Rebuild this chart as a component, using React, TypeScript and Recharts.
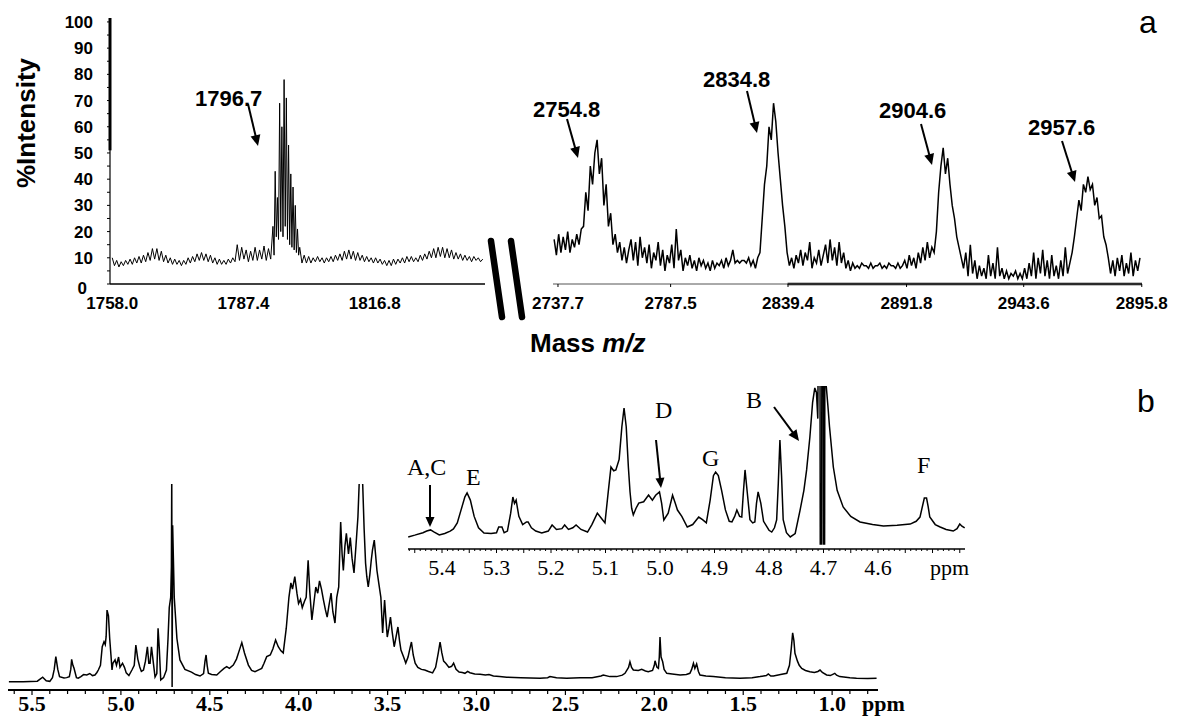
import React from "react";
import { Line, LineChart, ReferenceLine, XAxis, YAxis } from "recharts";

// (a) MALDI spectrum, low-mass window: [m/z, % intensity]
const msLow: [number, number][] = [
  [1758, 10], [1758.5, 7], [1759, 9], [1759.5, 6.5], [1760, 8.5], [1760.5, 7], [1761, 9], [1761.5, 7.5], [1762, 9.5], [1762.5, 7.5],
  [1763, 10], [1763.5, 8], [1764, 10.5], [1764.5, 8], [1765, 11], [1765.5, 8.5], [1766, 12], [1766.5, 9], [1767, 13.5], [1767.5, 9.5],
  [1768, 13.5], [1768.5, 9], [1769, 12.5], [1769.5, 8.5], [1770, 11], [1770.5, 8], [1771, 10], [1771.5, 7.5], [1772, 9.5], [1772.5, 7.5],
  [1773, 9], [1773.5, 7], [1774, 9], [1774.5, 7.5], [1775, 10], [1775.5, 8], [1776, 10.5], [1776.5, 8.5], [1777, 11.5], [1777.5, 9],
  [1778, 12], [1778.5, 9], [1779, 11.5], [1779.5, 8.5], [1780, 11], [1780.5, 8], [1781, 10], [1781.5, 7.5], [1782, 9.5], [1782.5, 7.5],
  [1783, 9], [1783.5, 7.5], [1784, 9.5], [1784.5, 8], [1785, 10], [1785.5, 8.5], [1786, 15], [1786.5, 9], [1787, 14], [1787.5, 9.5],
  [1788, 13], [1788.5, 8.5], [1789, 12.5], [1789.5, 9], [1790, 14], [1790.5, 9], [1791, 13], [1791.5, 9.5], [1792, 14.5], [1792.5, 9],
  [1793, 13.5], [1793.5, 9.5], [1794, 22], [1794.25, 11], [1794.5, 43], [1794.75, 18], [1795, 33], [1795.25, 17], [1795.5, 69], [1795.75, 20],
  [1796, 60], [1796.25, 18], [1796.5, 78], [1796.75, 22], [1797, 71], [1797.25, 17], [1797.5, 53], [1797.75, 15], [1798, 42], [1798.25, 14],
  [1798.5, 37], [1798.75, 13], [1799, 30], [1799.25, 12], [1799.5, 21], [1799.75, 11], [1800, 14], [1800.5, 8], [1801, 11], [1801.5, 8],
  [1802, 10.5], [1802.5, 8], [1803, 10], [1803.5, 8.5], [1804, 10.5], [1804.5, 8.5], [1805, 10], [1805.5, 8], [1806, 10], [1806.5, 8.5],
  [1807, 10.5], [1807.5, 8.5], [1808, 11], [1808.5, 9], [1809, 11.5], [1809.5, 9], [1810, 12.5], [1810.5, 9.5], [1811, 13], [1811.5, 9.5],
  [1812, 12.5], [1812.5, 9], [1813, 12], [1813.5, 9], [1814, 11], [1814.5, 8.5], [1815, 10.5], [1815.5, 8.5], [1816, 10], [1816.5, 8],
  [1817, 10], [1817.5, 8], [1818, 9.5], [1818.5, 7.5], [1819, 9], [1819.5, 7], [1820, 9], [1820.5, 7], [1821, 9.5], [1821.5, 7.5],
  [1822, 9.5], [1822.5, 8], [1823, 10], [1823.5, 8], [1824, 10.5], [1824.5, 8.5], [1825, 10.5], [1825.5, 8.5], [1826, 10], [1826.5, 8.5],
  [1827, 11], [1827.5, 9], [1828, 11.5], [1828.5, 9.5], [1829, 12.5], [1829.5, 10], [1830, 13.5], [1830.5, 10], [1831, 14], [1831.5, 10.5],
  [1832, 14], [1832.5, 10], [1833, 13.5], [1833.5, 10], [1834, 13], [1834.5, 9.5], [1835, 12], [1835.5, 9.5], [1836, 11.5], [1836.5, 9],
  [1837, 11], [1837.5, 9], [1838, 10.5], [1838.5, 8.5], [1839, 10.5], [1839.5, 9], [1840, 10], [1840.5, 8.5], [1841, 9.5],
];

// (a) high-mass window, one reading per m/z unit starting at msHighStart
const msHighStart = 2736;
const msHighPct = [
  17, 11, 19, 12, 18, 13, 20, 12, 17, 14,
  19, 15, 21, 22, 35, 28, 45, 38, 50, 55,
  42, 48, 30, 38, 22, 27, 15, 19, 12, 16,
  9, 14, 8, 13, 17, 9, 16, 7, 18, 10,
  14, 8, 15, 6, 12, 9, 16, 7, 13, 5,
  11, 8, 15, 6, 21, 9, 13, 5, 10, 7,
  11, 6, 9, 5, 10, 7, 9, 6, 8, 5,
  9, 6, 8, 7, 9, 6, 10, 7, 9, 13,
  8, 9, 8, 9, 9, 8, 10, 7, 9, 6,
  10, 12, 25, 38, 45, 60, 55, 69, 62, 50,
  40, 30, 22, 12, 7, 10, 6, 11, 8, 13,
  7, 12, 9, 16, 6, 10, 8, 13, 7, 11,
  15, 8, 17, 9, 14, 7, 16, 8, 12, 6,
  9, 5, 8, 6, 7, 6, 8, 7, 7, 6,
  8, 6, 7, 7, 8, 6, 7, 6, 8, 7,
  7, 6, 8, 6, 7, 9, 6, 11, 7, 10,
  6, 12, 8, 14, 9, 16, 10, 14, 12, 20,
  35, 45, 52, 42, 48, 38, 30, 25, 18, 14,
  10, 6, 12, 3, 15, 4, 9, 2, 7, 3,
  6, 2, 11, 3, 8, 2, 14, 3, 6, 2,
  5, 2, 4, 3, 5, 2, 4, 2, 6, 2,
  8, 3, 12, 2, 10, 4, 13, 3, 9, 2,
  11, 3, 7, 2, 9, 3, 14, 4, 8, 12,
  18, 25, 32, 28, 38, 35, 41, 36, 38, 30,
  33, 25, 26, 18, 15, 10, 4, 9, 3, 10,
  5, 11, 3, 8, 4, 12, 3, 9, 5, 10,
];

const intensityTicks = [0, 5, 10, 15, 20, 25, 30, 35, 40, 45, 50, 55, 60, 65, 70, 75, 80, 85, 90, 95, 100];
const msLowTicks = [1758.0, 1787.4, 1816.8];
const msHighTicks = [2737.7, 2787.5, 2839.4, 2891.8, 2943.6, 2995.8];
const msHighTickLabels = ["2737.7", "2787.5", "2839.4", "2891.8", "2943.6", "2895.8"];

// (b) 1H NMR, full spectrum: [ppm, relative intensity]
const nmrFull: [number, number][] = [
  [5.63, 4], [5.55, 4], [5.47, 4.3], [5.44, 6.2], [5.42, 4.5], [5.4, 4.2], [5.385, 6], [5.375, 10], [5.366, 16.2], [5.355, 10],
  [5.345, 6.5], [5.32, 5.8], [5.305, 6], [5.29, 6.5], [5.282, 10], [5.277, 14.9], [5.27, 12], [5.264, 10.7], [5.25, 6], [5.24, 5.7],
  [5.225, 6.5], [5.21, 7.5], [5.192, 7.3], [5.175, 8], [5.16, 7], [5.146, 7.3], [5.135, 8.5], [5.127, 9.7], [5.115, 12], [5.105, 21],
  [5.095, 23.4], [5.088, 22], [5.083, 26], [5.078, 38.8], [5.07, 36], [5.063, 25], [5.056, 17], [5.05, 9.7], [5.045, 13], [5.033, 14.6],
  [5.025, 12], [5.013, 16], [5.005, 11], [4.991, 13], [4.98, 11], [4.97, 8.3], [4.955, 7], [4.938, 9.7], [4.925, 12], [4.916, 21.8],
  [4.905, 15], [4.894, 11.2], [4.885, 9], [4.873, 9.7], [4.862, 14], [4.851, 21], [4.843, 13], [4.836, 13], [4.828, 21], [4.82, 15],
  [4.808, 6.3], [4.798, 8], [4.791, 30], [4.784, 20], [4.776, 4.9], [4.76, 6], [4.744, 9.7], [4.735, 25], [4.728, 40], [4.72, 45],
  [4.716, 60], [4.714, 105], [4.712, 1.5], [4.709, 80], [4.705, 64.6], [4.7, 45], [4.694, 37], [4.685, 25], [4.668, 14.6], [4.64, 10],
  [4.603, 8.7], [4.58, 7.5], [4.555, 6.8], [4.535, 8], [4.527, 14], [4.521, 17], [4.515, 12], [4.508, 8.1], [4.49, 7.5], [4.461, 7.3],
  [4.44, 9], [4.42, 10.5], [4.405, 11.3], [4.39, 10.5], [4.368, 12.1], [4.35, 15], [4.335, 19], [4.32, 23], [4.305, 18], [4.283, 12.1],
  [4.265, 9.5], [4.246, 8.9], [4.225, 9.8], [4.208, 10.5], [4.195, 13], [4.18, 16.2], [4.16, 17], [4.145, 20], [4.13, 24.3], [4.115, 21],
  [4.1, 19], [4.087, 18], [4.07, 30], [4.055, 45], [4.044, 52], [4.035, 49], [4.022, 55], [4.01, 47], [4.001, 42], [3.99, 44],
  [3.98, 40], [3.968, 43], [3.958, 45], [3.947, 63], [3.938, 48], [3.926, 34], [3.915, 42], [3.904, 50], [3.893, 47], [3.883, 53],
  [3.872, 49], [3.861, 43.7], [3.85, 39], [3.84, 35.4], [3.83, 41], [3.818, 47], [3.808, 38], [3.796, 32.5], [3.786, 45], [3.775, 50],
  [3.764, 81.5], [3.756, 66], [3.749, 58], [3.74, 70], [3.732, 76], [3.72, 66], [3.71, 74], [3.7, 64], [3.689, 56.8], [3.678, 70],
  [3.667, 84], [3.66, 100], [3.652, 110], [3.645, 108], [3.64, 99.5], [3.632, 78], [3.624, 61.6], [3.617, 55], [3.609, 50], [3.6, 56],
  [3.592, 63], [3.585, 68], [3.575, 72.8], [3.568, 66], [3.56, 58], [3.55, 52], [3.538, 45], [3.528, 27.7], [3.517, 43.7], [3.51, 35],
  [3.502, 25.7], [3.493, 30], [3.484, 35.4], [3.474, 28], [3.463, 21], [3.452, 26], [3.442, 30.6], [3.433, 24], [3.425, 19.4], [3.41, 16],
  [3.398, 13.1], [3.385, 16], [3.375, 20], [3.366, 23.3], [3.356, 17], [3.345, 13], [3.33, 11], [3.31, 10], [3.291, 9.7], [3.27, 9],
  [3.247, 8.3], [3.23, 11], [3.215, 18], [3.205, 23.3], [3.195, 18], [3.185, 14], [3.173, 13], [3.155, 11], [3.14, 11.5], [3.129, 13],
  [3.115, 10], [3.098, 8.7], [3.08, 8.5], [3.065, 8.1], [3.05, 9], [3.037, 8.4], [3.01, 7.8], [2.98, 7.6], [2.95, 7.3], [2.93, 7.5],
  [2.905, 6.8], [2.87, 6.5], [2.83, 6.2], [2.75, 6], [2.643, 5.7], [2.6, 6], [2.587, 6.5], [2.55, 5.9], [2.493, 5.7], [2.418, 6],
  [2.35, 6], [2.3, 6.8], [2.287, 7.3], [2.25, 6.5], [2.212, 6.5], [2.18, 7.2], [2.165, 8.1], [2.145, 11], [2.137, 13.7], [2.128, 11],
  [2.118, 9.7], [2.09, 9.5], [2.071, 10], [2.05, 9.2], [2.034, 8.9], [2.01, 9.5], [2.0, 12], [1.996, 14.2], [1.985, 11], [1.977, 10.5],
  [1.972, 16], [1.968, 25.7], [1.962, 16], [1.953, 13.7], [1.945, 10], [1.93, 8.1], [1.9, 7.8], [1.855, 7.3], [1.82, 7.5], [1.8, 8.1],
  [1.79, 10], [1.78, 13], [1.772, 10.5], [1.762, 12.6], [1.752, 9], [1.743, 7.3], [1.71, 6.8], [1.668, 6.5], [1.6, 6], [1.518, 5.7],
  [1.45, 6], [1.405, 6.5], [1.37, 7], [1.359, 7.8], [1.345, 6.8], [1.33, 6.8], [1.29, 7.5], [1.255, 8.1], [1.24, 12], [1.23, 20],
  [1.222, 27.7], [1.215, 24], [1.209, 17.8], [1.195, 14], [1.185, 12], [1.171, 10.5], [1.15, 9.5], [1.125, 8.9], [1.1, 8.5], [1.08, 9],
  [1.068, 9.7], [1.055, 8.5], [1.031, 7.3], [1.01, 7], [0.985, 8.1], [0.975, 7.2], [0.957, 6.5], [0.9, 5.9], [0.863, 5.7], [0.8, 5.6],
  [0.75, 5.7],
];

// (b) inset, anomeric region
const nmrInset: [number, number][] = [
  [5.462, 7.4], [5.45, 8.5], [5.435, 10], [5.428, 11], [5.421, 11.7], [5.415, 10.5], [5.405, 8.6], [5.395, 9.5], [5.385, 11], [5.379, 12.3],
  [5.372, 16], [5.365, 24], [5.358, 32], [5.354, 34.4], [5.348, 30], [5.341, 20], [5.333, 13], [5.323, 9.8], [5.31, 9.5], [5.3, 10],
  [5.296, 13.5], [5.29, 13.5], [5.286, 10], [5.28, 11], [5.274, 22], [5.27, 31.9], [5.267, 28], [5.264, 30], [5.259, 20], [5.252, 15],
  [5.245, 16.6], [5.242, 16.6], [5.236, 13], [5.228, 11], [5.217, 9.8], [5.205, 11], [5.198, 14.7], [5.19, 12], [5.18, 12.5], [5.175, 14.7],
  [5.168, 12], [5.16, 13], [5.154, 14.7], [5.145, 12], [5.133, 10.4], [5.125, 15], [5.115, 22], [5.108, 19], [5.101, 16], [5.095, 35],
  [5.09, 50.3], [5.085, 48], [5.081, 48.5], [5.075, 55], [5.07, 75], [5.066, 86.5], [5.062, 75], [5.058, 50], [5.055, 35], [5.052, 25],
  [5.049, 20.9], [5.044, 25], [5.039, 28.2], [5.03, 29], [5.021, 33.1], [5.014, 30], [5.008, 33], [5.001, 35], [4.997, 28], [4.993, 17.8],
  [4.985, 22], [4.977, 33], [4.972, 28], [4.968, 23.9], [4.96, 20], [4.95, 13.5], [4.94, 15], [4.929, 19.6], [4.922, 18], [4.915, 16],
  [4.908, 30], [4.902, 45], [4.898, 47.2], [4.893, 45], [4.887, 36], [4.88, 24], [4.873, 17], [4.868, 16.6], [4.863, 20], [4.859, 23.9],
  [4.854, 20], [4.85, 19.6], [4.847, 35], [4.844, 48.5], [4.84, 35], [4.835, 18], [4.83, 16], [4.826, 16.6], [4.823, 28], [4.82, 35],
  [4.815, 28], [4.81, 17], [4.8, 11.5], [4.795, 10.4], [4.79, 13], [4.786, 17.8], [4.783, 40], [4.78, 66.9], [4.777, 45], [4.774, 18],
  [4.768, 10], [4.761, 7.4], [4.752, 9.5], [4.743, 23.9], [4.736, 36], [4.731, 48.5], [4.725, 68.7], [4.72, 90], [4.716, 98.8], [4.713, 96],
  [4.7105, 80], [4.7095, 130], [4.7065, 130], [4.706, 3], [4.7035, 3], [4.703, 130], [4.7005, 130], [4.7, 3], [4.698, 3], [4.6975, 130],
  [4.695, 100], [4.692, 88], [4.689, 75], [4.682, 50.3], [4.675, 36], [4.664, 25.8], [4.65, 20], [4.633, 16.6], [4.61, 15], [4.59, 14.1],
  [4.565, 14.5], [4.541, 15.3], [4.53, 17], [4.523, 19.6], [4.515, 31.3], [4.511, 31.3], [4.508, 26], [4.505, 19.6], [4.495, 15], [4.486, 13.5],
  [4.475, 12], [4.462, 11], [4.455, 12.5], [4.45, 15.3], [4.446, 14], [4.441, 12.9],
];

const nmrTickLabels = ["5.5", "5.0", "4.5", "4.0", "3.5", "3.0", "2.5", "2.0", "1.5", "1.0"];
const insetTickLabels = ["5.4", "5.3", "5.2", "5.1", "5.0", "4.9", "4.8", "4.7", "4.6"];

const msLowData = msLow.map(([x, y]) => ({ x, y }));
const msHighData = msHighPct.map((y, i) => ({ x: msHighStart + i, y }));
const nmrFullData = nmrFull.map(([x, y]) => ({ x, y }));
const nmrInsetData = nmrInset.map(([x, y]) => ({ x, y }));

const nmrTicks = Array.from({ length: 49 }, (_, i) => Math.round((5.6 - i * 0.1) * 10) / 10);
const insetTicks = Array.from({ length: 102 }, (_, i) => Math.round((5.46 - i * 0.01) * 100) / 100);

const SANS = "Liberation Sans, Arial, sans-serif";
const SERIF = "Liberation Serif, Times New Roman, serif";

const IntensityTick = (props: any) => {
  const { x, y, payload } = props;
  const v = payload.value as number;
  const labelled = v % 10 === 0;
  return (
    <g>
      <line x1={x} x2={x - 3} y1={y} y2={y} stroke="#000" strokeWidth={1} />
      {labelled && (
        <text x={v === 0 ? x - 23 : x - 17} y={v === 0 ? y + 10 : y + 6} textAnchor="end" fontFamily={SANS} fontWeight="bold" fontSize={17} fill="#000">
          {v}
        </text>
      )}
    </g>
  );
};

const MassTick = (props: any) => {
  const { x, y, payload, labels, mark } = props;
  const idx = msHighTicks.indexOf(payload.value);
  const text = labels && idx >= 0 ? labels[idx] : (payload.value as number).toFixed(1);
  return (
    <g>
      {mark && <line x1={x} x2={x} y1={y} y2={y + 3} stroke="#000" strokeWidth={1} />}
      <text x={x} y={y + 25} textAnchor="middle" fontFamily={SANS} fontWeight="bold" fontSize={17} fill="#000">
        {text}
      </text>
    </g>
  );
};

const NmrTick = (props: any) => {
  const { x, y, payload } = props;
  const label = (payload.value as number).toFixed(1);
  const major = nmrTickLabels.includes(label);
  return (
    <g>
      <line x1={x} x2={x} y1={y} y2={y + (major ? 5 : 4)} stroke="#000" strokeWidth={1.2} />
      {major && (
        <text x={x} y={y + 21} textAnchor="middle" fontFamily={SERIF} fontWeight="bold" fontSize={22} fill="#000">
          {label}
        </text>
      )}
    </g>
  );
};

const InsetTick = (props: any) => {
  const { x, y, payload } = props;
  const v = payload.value as number;
  const tenth = Math.abs(v * 10 - Math.round(v * 10)) < 1e-6;
  const half = Math.abs(v * 20 - Math.round(v * 20)) < 1e-6;
  const label = v.toFixed(1);
  return (
    <g>
      <line x1={x} x2={x} y1={y} y2={y + (half ? 4 : 2)} stroke="#000" strokeWidth={1} />
      {tenth && insetTickLabels.includes(label) && (
        <text x={x} y={y + 26} textAnchor="middle" fontFamily={SERIF} fontSize={22} fill="#000">
          {label}
        </text>
      )}
    </g>
  );
};

function Arrow({ x1, y1, x2, y2, head = 11, half = 5, width = 2 }: { x1: number; y1: number; x2: number; y2: number; head?: number; half?: number; width?: number }) {
  const dx = x2 - x1;
  const dy = y2 - y1;
  const len = Math.hypot(dx, dy);
  const ux = dx / len;
  const uy = dy / len;
  const bx = x2 - ux * head;
  const by = y2 - uy * head;
  const pts = `${x2},${y2} ${bx - uy * half},${by + ux * half} ${bx + uy * half},${by - ux * half}`;
  return (
    <g>
      <line x1={x1} y1={y1} x2={bx + ux} y2={by + uy} stroke="#000" strokeWidth={width} />
      <polygon points={pts} fill="#000" />
    </g>
  );
}

export default function App() {
  return (
    <div style={{ position: "absolute", left: 0, top: 0, width: 1179, height: 718, background: "#fff", overflow: "hidden" }}>
      {/* (a) low mass window */}
      <div style={{ position: "absolute", left: 0, top: 0 }}>
        <LineChart width={500} height={320} data={msLowData} margin={{ top: 18, right: 15, left: 0, bottom: 0 }}>
          <XAxis
            dataKey="x"
            type="number"
            domain={[1757.5, 1841.5]}
            ticks={msLowTicks}
            interval={0}
            height={36}
            tickSize={0}
            tickMargin={0}
            axisLine={{ stroke: "#000", strokeWidth: 1.5 }}
            tickLine={false}
            tick={<MassTick />}
          />
          <YAxis
            type="number"
            domain={[0, 101.5]}
            ticks={intensityTicks}
            interval={0}
            width={110}
            tickSize={0}
            tickMargin={0}
            axisLine={{ stroke: "#000", strokeWidth: 1.2 }}
            tickLine={false}
            tick={<IntensityTick />}
          />
          <ReferenceLine segment={[{ x: 1757.5, y: 51 }, { x: 1757.5, y: 101.5 }]} stroke="#000" strokeWidth={3} />
          <Line dataKey="y" type="linear" stroke="#000" strokeWidth={1} dot={false} isAnimationActive={false} />
        </LineChart>
      </div>

      {/* (a) high mass window */}
      <div style={{ position: "absolute", left: 500, top: 0 }}>
        <LineChart width={679} height={320} data={msHighData} margin={{ top: 18, right: 37, left: 53, bottom: 0 }}>
          <XAxis
            dataKey="x"
            type="number"
            domain={[2735.5, 2995.9]}
            ticks={msHighTicks}
            interval={0}
            height={36}
            tickSize={0}
            tickMargin={0}
            axisLine={{ stroke: "#555", strokeWidth: 1 }}
            tickLine={false}
            tick={<MassTick labels={msHighTickLabels} mark />}
          />
          <YAxis type="number" domain={[0, 101.5]} hide />
          <ReferenceLine segment={[{ x: 2839.2, y: 0 }, { x: 2995.9, y: 0 }]} stroke="#000" strokeWidth={2.5} />
          <Line dataKey="y" type="linear" stroke="#000" strokeWidth={1.5} dot={false} isAnimationActive={false} />
        </LineChart>
      </div>

      {/* (b) full 1H NMR spectrum */}
      <div style={{ position: "absolute", left: 0, top: 470 }}>
        <LineChart width={900} height={248} data={nmrFullData} margin={{ top: 14, right: 22, left: 8, bottom: 0 }}>
          <XAxis
            dataKey="x"
            type="number"
            domain={[0.742, 5.635]}
            reversed
            ticks={nmrTicks}
            interval={0}
            height={28}
            tickSize={0}
            tickMargin={0}
            axisLine={{ stroke: "#000", strokeWidth: 2 }}
            tickLine={false}
            tick={<NmrTick />}
          />
          <YAxis type="number" domain={[0, 100]} allowDataOverflow hide />
          <Line dataKey="y" type="linear" stroke="#000" strokeWidth={1.5} dot={false} isAnimationActive={false} />
        </LineChart>
      </div>

      {/* (b) inset, anomeric region */}
      <div style={{ position: "absolute", left: 400, top: 372 }}>
        <LineChart width={580} height={215} data={nmrInsetData} margin={{ top: 14, right: 15, left: 8, bottom: 0 }}>
          <XAxis
            dataKey="x"
            type="number"
            domain={[4.4404, 5.4624]}
            reversed
            ticks={insetTicks}
            interval={0}
            height={38}
            tickSize={0}
            tickMargin={0}
            axisLine={{ stroke: "#000", strokeWidth: 1.5 }}
            tickLine={false}
            tick={<InsetTick />}
          />
          <YAxis type="number" domain={[0, 100]} allowDataOverflow hide />
          <Line dataKey="y" type="linear" stroke="#000" strokeWidth={1.5} dot={false} isAnimationActive={false} />
        </LineChart>
      </div>

      {/* annotations */}
      <svg width={1179} height={718} style={{ position: "absolute", left: 0, top: 0, pointerEvents: "none" }}>
        <text transform="translate(35,123) rotate(-90)" textAnchor="middle" fontFamily={SANS} fontWeight="bold" fontSize={26} fill="#000">
          %Intensity
        </text>
        <text x={530} y={352} fontFamily={SANS} fontWeight="bold" fontSize={26} fill="#000">
          Mass <tspan fontStyle="italic">m/z</tspan>
        </text>
        <line x1={491} y1={241} x2={502} y2={317} stroke="#000" strokeWidth={6.5} strokeLinecap="round" />
        <line x1={511} y1={241} x2={522} y2={317} stroke="#000" strokeWidth={6.5} strokeLinecap="round" />

        <g fontFamily={SANS} fontWeight="bold" fontSize={22} fill="#000">
          <text x={195} y={106}>1796.7</text>
          <text x={533} y={117}>2754.8</text>
          <text x={703} y={87}>2834.8</text>
          <text x={879} y={118}>2904.6</text>
          <text x={1028} y={135}>2957.6</text>
        </g>
        <Arrow x1={248} y1={104} x2={258} y2={146} />
        <Arrow x1={567} y1={119} x2={578} y2={158} />
        <Arrow x1={747} y1={91} x2={757} y2={133} />
        <Arrow x1={921} y1={124} x2={932} y2={165} />
        <Arrow x1={1062} y1={141} x2={1075} y2={182} />

        <text x={1139} y={33} fontFamily={SANS} fontSize={32} fill="#000">a</text>
        <text x={1137} y={412} fontFamily={SANS} fontSize={32} fill="#000">b</text>

        <g fontFamily={SERIF} fontSize={24} fill="#000">
          <text x={407} y={475}>A,C</text>
          <text x={466} y={485}>E</text>
          <text x={655} y={418}>D</text>
          <text x={702} y={466}>G</text>
          <text x={746} y={408}>B</text>
          <text x={917} y={473}>F</text>
        </g>
        <Arrow x1={430} y1={485} x2={430} y2={527} head={10} half={4.5} />
        <Arrow x1={656} y1={440} x2={661} y2={488} head={10} half={4.5} />
        <Arrow x1={774} y1={407} x2={799} y2={441} head={11} half={5} />

        <text x={930} y={575} fontFamily={SERIF} fontSize={22} fill="#000">ppm</text>
        <text x={862} y={711} fontFamily={SERIF} fontWeight="bold" fontSize={22} fill="#000">ppm</text>
      </svg>
    </div>
  );
}
